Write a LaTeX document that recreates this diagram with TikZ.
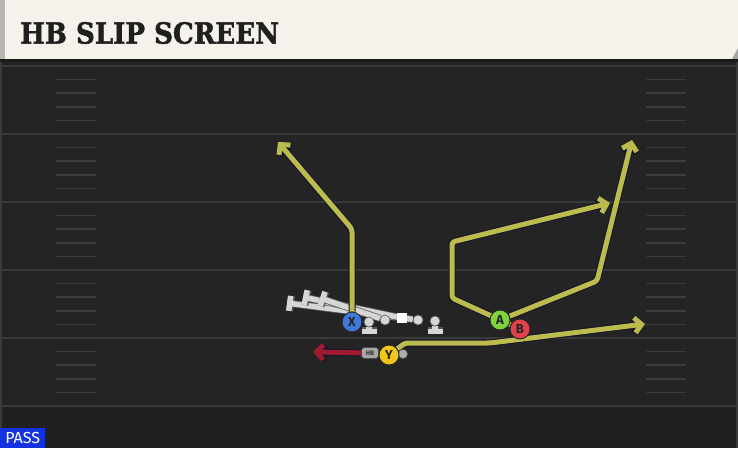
\documentclass[tikz,border=0pt]{standalone}
\usepackage{fontspec}
\usetikzlibrary{arrows.meta}
\setmainfont{Fira Sans}
\newfontfamily\titlefont{DejaVu Serif}[BoldFeatures={FakeBold=1.6}]

\definecolor{fieldbg}{HTML}{242424}
\definecolor{fieldlow}{HTML}{202020}
\definecolor{yardgray}{HTML}{3A3A3A}
\definecolor{hashgray}{HTML}{3C3C3C}
\definecolor{cream}{HTML}{F5F2EC}
\definecolor{stripgray}{HTML}{B4B4B0}
\definecolor{routeyel}{HTML}{BCBB4E}
\definecolor{routeedge}{HTML}{15152A}
\definecolor{hbred}{HTML}{9E1B32}
\definecolor{xblue}{HTML}{3D78DA}
\definecolor{agreen}{HTML}{7FD23C}
\definecolor{bred}{HTML}{E2404A}
\definecolor{yyellow}{HTML}{F0C61C}
\definecolor{lmgray}{HTML}{D6D6D6}
\definecolor{tagblue}{HTML}{1432E0}

\pgfdeclarelayer{field}
\pgfdeclarelayer{routes}
\pgfsetlayers{field,routes,main}

\begin{document}
\begin{tikzpicture}[x=1pt,y=-1pt]

%-------------------------------------------------
% Styles
%-------------------------------------------------
\tikzset{
  yardline/.style={draw=yardgray, line width=2pt},
  hash/.style={draw=hashgray, line width=1.6pt},
  route/.style={draw=routeyel, line width=5pt, line join=round,
    rounded corners=3pt, -{Straight Barb[length=7pt,width=15pt]},
    preaction={draw=routeedge, line width=7pt}},
  hbrun/.style={draw=hbred, line width=5pt,
    -{Straight Barb[length=7pt,width=15pt]},
    preaction={draw=routeedge, line width=7pt}},
  blockline/.style={draw=lmgray, line width=5.5pt,
    -{Bar[width=15pt]}, preaction={draw=black!65, line width=7pt}},
  player/.style={circle, draw=black!85, line width=0.9pt, minimum size=20pt,
    inner sep=0pt, text=black!85,
    font=\fontsize{13}{13}\selectfont\bfseries},
  lineman/.style={circle, fill=lmgray, draw=black!65, line width=0.6pt,
    minimum size=10pt, inner sep=0pt},
  snapper/.style={rectangle, fill=white, minimum size=10pt, inner sep=0pt},
  hbtag/.style={rectangle, rounded corners=3pt, fill=gray!70, draw=black!70,
    line width=0.6pt, minimum width=17pt, minimum height=11pt, inner sep=0pt,
    text=black!80, font=\fontsize{6.5}{6.5}\selectfont\bfseries},
  motiondot/.style={circle, fill=gray!65, draw=black!60, line width=0.5pt,
    minimum size=9pt, inner sep=0pt},
  passtag/.style={rectangle, fill=tagblue, text=white, minimum width=45pt,
    minimum height=20pt, inner sep=0pt,
    font=\fontsize{16}{16}\selectfont}
}

\useasboundingbox (0,0) rectangle (738,448);

%-------------------------------------------------
% Field
%-------------------------------------------------
\begin{pgfonlayer}{field}
\fill[fieldbg] (0,59) rectangle (738,448);
\fill[fieldlow] (0,408) rectangle (738,448);

% yard lines
\foreach \y in {66,134,202,270,338,406} {
  \draw[yardline] (0,\y) -- (738,\y);
}

% hash marks
\foreach \y in {66,134,202,270,338} {
  \foreach \k in {1,...,4} {
    \draw[hash] (56,\y+13.6*\k) -- (96,\y+13.6*\k);
    \draw[hash] (646,\y+13.6*\k) -- (686,\y+13.6*\k);
  }
}

% side edges
\draw[yardgray, line width=1.5pt] (1,59) -- (1,448);
\draw[yardgray, line width=1.5pt] (737,59) -- (737,448);

% title bar
\fill[stripgray] (0,0) rectangle (5,59);
\fill[cream] (5,0) -- (738,0) -- (738,48) -- (732,59) -- (5,59) -- cycle;
\fill[gray!70] (738,48) -- (738,59) -- (732,59) -- cycle;
\fill[black!90] (0,59) rectangle (738,62);
\end{pgfonlayer}

\node[anchor=west, text=black!88, inner sep=0pt] (title) at (20,33)
  {\titlefont\bfseries\fontsize{29}{29}\selectfont\scalebox{0.9}[1]{HB SLIP SCREEN}};

%-------------------------------------------------
% Offensive line
%-------------------------------------------------
\node[lineman] (LT) at (369,322) {};
\node[lineman] (LG) at (385,320) {};
\node[snapper] (C)  at (402,318) {};
\node[lineman] (RG) at (418,320) {};
\node[lineman] (RT) at (435,321) {};

%-------------------------------------------------
% Skill players
%-------------------------------------------------
\node[player, fill=xblue]   (X) at (352,322) {X};
\node[player, fill=agreen]  (A) at (500,320) {A};
\node[player, fill=bred]    (B) at (520,329) {B};
\node[hbtag]     (HB) at (370,353) {HB};
\node[motiondot] (YM) at (403,354) {};
\node[player, fill=yyellow] (Y) at (389,355) {Y};

% route ends
\coordinate (Xtip)  at (278,142);
\coordinate (Btip)  at (610,203);
\coordinate (Atip)  at (632,140);
\coordinate (Ytip)  at (645,324);
\coordinate (HBtip) at (313,352);
\coordinate (LGbar) at (320,298);
\coordinate (Cbar)  at (303,297);
\coordinate (RGbar) at (287,303);
\coordinate (LTbar) at (369,334);
\coordinate (RTbar) at (435,334);

%-------------------------------------------------
% Blocks and routes (under the players)
%-------------------------------------------------
\begin{pgfonlayer}{routes}
\draw[blockline] (RG) -- (RGbar);
\draw[blockline] (C) -- (Cbar);
\draw[blockline] (LG) -- (LGbar);
\draw[blockline] (LT) -- (LTbar);
\draw[blockline] (RT) -- (RTbar);

\draw[route] (X) -- (352,229) -- (Xtip);
\draw[route] (B) -- (452,298) -- (452,242) -- (Btip);
\draw[route] (A) -- (597,281) -- (Atip);
\draw[route] (Y) -- (405,343) -- (490,343) -- (Ytip);
\draw[hbrun] (HB) -- (HBtip);
\end{pgfonlayer}

% play type
\node[passtag, anchor=south west] (pass) at (0,448) {PASS};

\end{tikzpicture}
\end{document}
